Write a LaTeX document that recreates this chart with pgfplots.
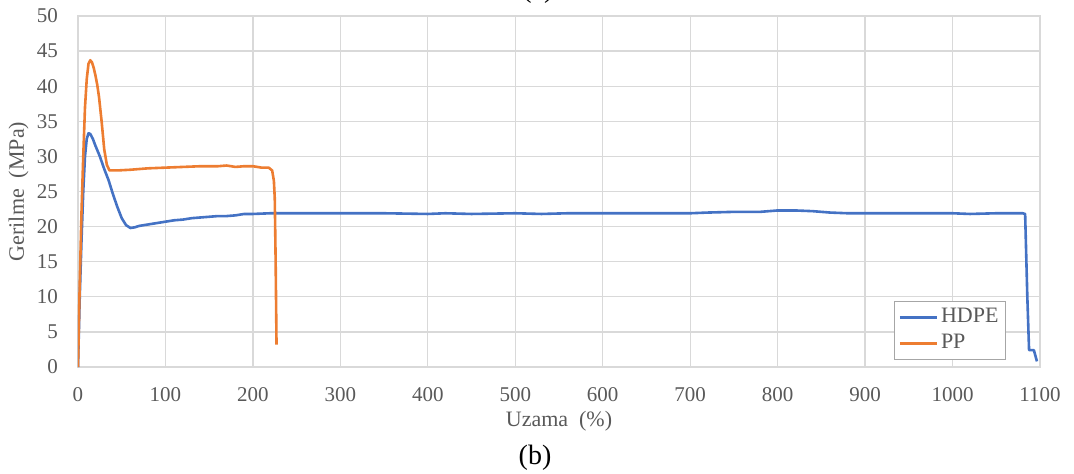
\documentclass[border=0pt]{standalone}
\usepackage{pgfplots}
\pgfplotsset{compat=1.18}
\usepackage{fontspec}
\setmainfont{Liberation Serif}
\definecolor{hdpe}{RGB}{68,114,196}
\definecolor{pp}{RGB}{237,125,49}
\definecolor{gridc}{RGB}{217,217,217}
\definecolor{txt}{RGB}{89,89,89}
\definecolor{legc}{RGB}{166,166,166}
\begin{document}
\begin{tikzpicture}
\begin{axis}[
  scale only axis,
  width=962pt, height=351pt,
  xmin=0, xmax=1100, ymin=0, ymax=50,
  xtick distance=100, ytick distance=5,
  grid=major,
  major grid style={draw=gridc, line width=1.3pt},
  axis line style={draw=gridc, line width=1.3pt},
  major tick length=0pt,
  /pgf/number format/assume math mode=true,
  /pgf/number format/1000 sep={},
  tick label style={font=\fontsize{21}{25}\selectfont, text=txt},
  xticklabel style={anchor=north, inner sep=0pt, yshift=-20pt},
  yticklabel style={anchor=east, inner sep=0pt, xshift=-20pt},
  xlabel={Uzama\ \ (\%)},
  ylabel={Gerilme\ \ (MPa)},
  label style={font=\fontsize{22}{26}\selectfont, text=txt},
  xlabel style={at={([yshift=-59pt]axis description cs:0.5,0)}, anchor=base},
  ylabel style={at={([xshift=-54pt]axis description cs:0,0.5)}, anchor=base},
  legend style={at={(rel axis cs:0.9647,0.188)}, anchor=north east,
    draw=legc, line width=1.2pt, font=\fontsize{22}{26}\selectfont, text=txt,
    inner xsep=4pt, inner ysep=3pt, row sep=0pt,
    nodes={inner sep=3pt, text height=15pt, text depth=5pt}},
  legend cell align=left,
  legend image code/.code={\draw[#1, line width=2.5pt] (0pt,0pt) -- (37pt,0pt);},
  every axis plot/.append style={line width=2.6pt, line join=round},
]
\addplot[hdpe] coordinates {
(0,0) (2,10) (4,18) (6,25) (8,30) (10,32.5) (12,33.3) (14,33.2) (17,32.5)
(20,31.5) (25,30) (30,28.2) (35,26.6) (40,24.6) (45,22.8) (50,21.2) (55,20.2)
(60,19.8) (65,19.9) (70,20.1) (80,20.3) (90,20.5) (100,20.7) (110,20.9)
(120,21.0) (130,21.2) (140,21.3) (150,21.4) (160,21.5) (170,21.5) (180,21.6)
(190,21.8) (200,21.8) (220,21.9) (250,21.9) (300,21.9) (350,21.9) (400,21.8)
(420,21.9) (450,21.8) (500,21.9) (530,21.8) (560,21.9) (600,21.9) (650,21.9)
(700,21.9) (720,22.0) (750,22.1) (780,22.1) (800,22.3) (820,22.3) (840,22.2)
(860,22.0) (880,21.9) (900,21.9) (1000,21.9) (1020,21.8) (1050,21.9)
(1080,21.9) (1083,21.8) (1085.5,10) (1087.5,2.4) (1093,2.4) (1096.5,0.8)
};
\addlegendentry{HDPE}
\addplot[pp] coordinates {
(0,0) (2,12) (4,22) (6,30) (8,37) (10,41) (12,43.2) (14,43.7) (16,43.4)
(18,42.6) (20,41.5) (22,40.2) (24,38.5) (27,35) (30,31) (33,28.8) (36,28.0)
(45,28.0) (60,28.1) (80,28.3) (100,28.4) (120,28.5) (140,28.6) (160,28.6)
(170,28.7) (180,28.5) (190,28.6) (200,28.6) (210,28.4) (218,28.4) (222,28.0)
(224,26.5) (225,24) (226,15) (227,3.2)
};
\addlegendentry{PP}
\end{axis}
\node[anchor=base, font=\fontsize{28}{32}\selectfont] at (460pt,369.5pt) {(a)};
\node[anchor=base, font=\fontsize{28}{32}\selectfont] at (457pt,-97pt) {(b)};
\pgfresetboundingbox
\path[use as bounding box] (-78pt,-107pt) rectangle (996pt,367pt);
\end{tikzpicture}
\end{document}
